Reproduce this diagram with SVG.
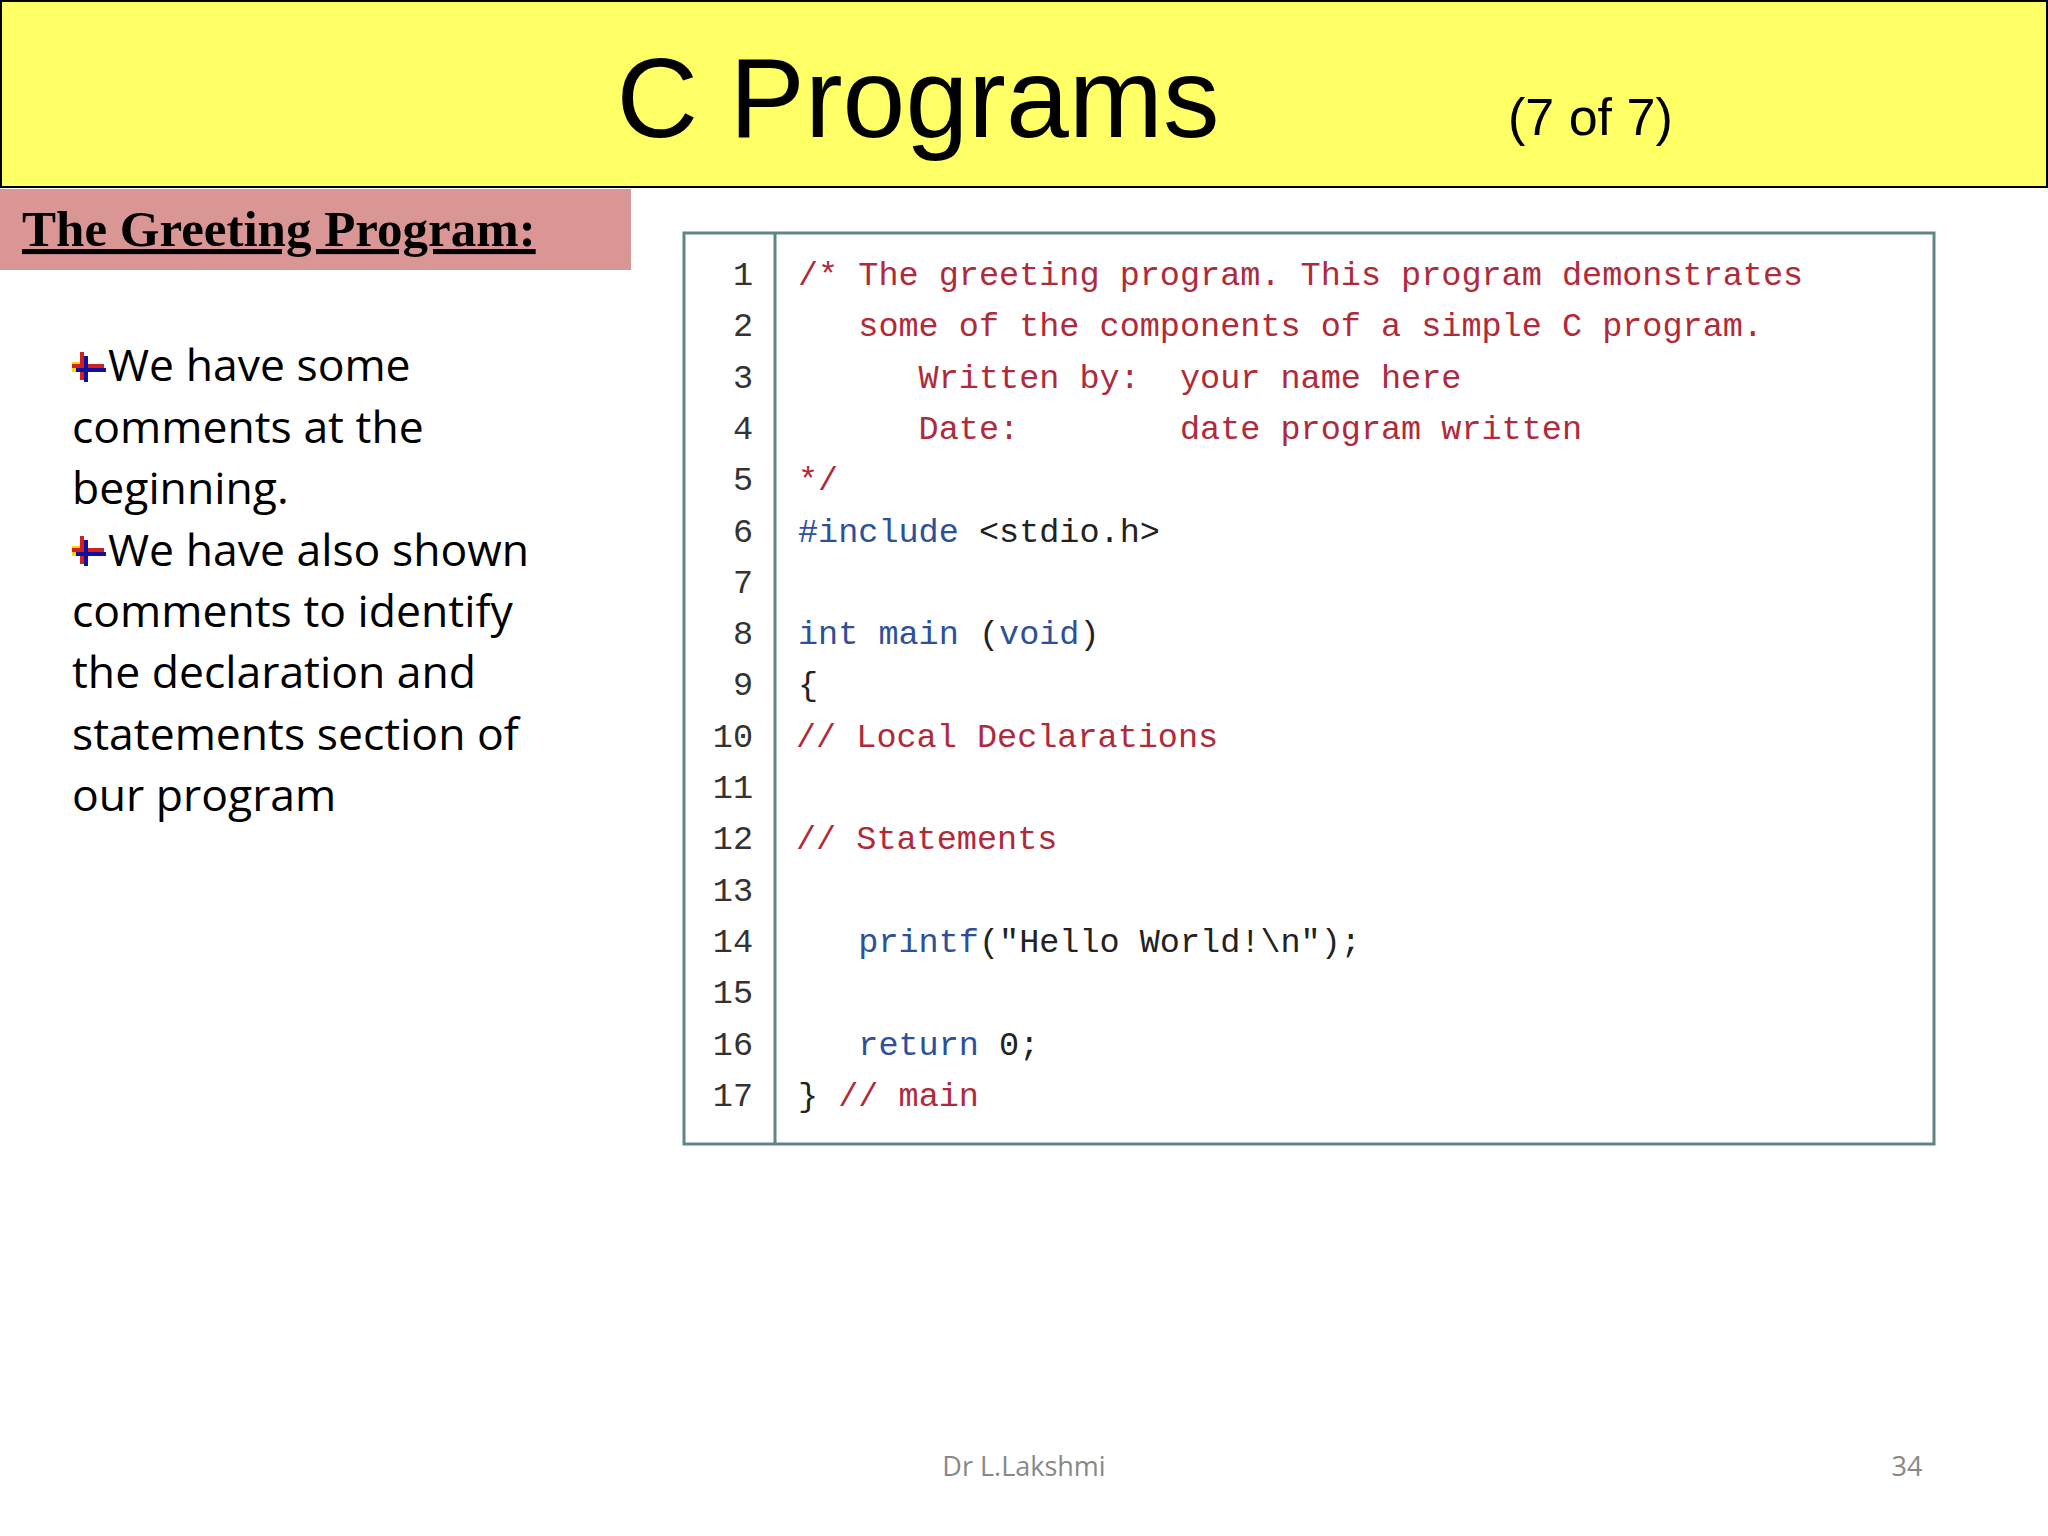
<svg xmlns="http://www.w3.org/2000/svg" width="2048" height="1536" viewBox="0 0 2048 1536">
<style>
.b{font-family:"Open Sans","Noto Sans",sans-serif;font-size:44.5px;fill:#000}
.c{font-family:"Liberation Mono",monospace;font-size:33.5px;white-space:pre}
.n{fill:#333;text-anchor:end}
.r{fill:#b02a3a}
.k{fill:#2e4f9a}
.d{fill:#222}
</style>
<rect width="2048" height="1536" fill="#fff"/>
<g id="title">
<rect x="1" y="1" width="2046" height="186" fill="#ffff66" stroke="#000" stroke-width="2"/>
<text x="918" y="137" text-anchor="middle" font-family="Liberation Sans,Arial,sans-serif" font-size="113">C Programs</text>
<text x="1508" y="135" font-family="Liberation Sans,Arial,sans-serif" font-size="52">(7 of  7)</text>
</g>
<g id="heading">
<rect x="0" y="189" width="631" height="81" fill="#d99694"/>
<text x="22" y="246" font-family="Liberation Serif,serif" font-weight="bold" font-size="51" text-decoration="underline">The Greeting Program:</text>
</g>
<defs>
<g id="ic"><rect x="0" y="-14" width="10" height="10" fill="#ffd700"/><rect x="8" y="-24" width="4" height="28" fill="#d02020"/><rect x="0" y="-12" width="32" height="4" fill="#d02020"/><rect x="12" y="-20" width="4" height="26" fill="#1010a0"/><rect x="4" y="-8" width="30" height="4" fill="#1010a0"/></g>
</defs>
<g id="bullets">
<use href="#ic" x="72" y="376"/>
<use href="#ic" x="72" y="560"/>
<text class="b" x="108" y="381">We have some</text>
<text class="b" x="72" y="443">comments at the</text>
<text class="b" x="72" y="504">beginning.</text>
<text class="b" x="108" y="566">We have also shown</text>
<text class="b" x="72" y="627">comments to identify</text>
<text class="b" x="72" y="688">the declaration and</text>
<text class="b" x="72" y="750">statements section of</text>
<text class="b" x="72" y="811">our program</text>
</g>
<g id="code">
<rect x="684" y="233" width="1250" height="911" fill="#fff" stroke="#5f8585" stroke-width="3"/>
<line x1="775" y1="233" x2="775" y2="1144" stroke="#5f8585" stroke-width="3"/>
<g class="c n">
<text x="753" y="285">1</text><text x="753" y="336">2</text><text x="753" y="388">3</text><text x="753" y="439">4</text><text x="753" y="490">5</text><text x="753" y="542">6</text><text x="753" y="593">7</text><text x="753" y="644">8</text><text x="753" y="695">9</text><text x="753" y="747">10</text><text x="753" y="798">11</text><text x="753" y="849">12</text><text x="753" y="901">13</text><text x="753" y="952">14</text><text x="753" y="1003">15</text><text x="753" y="1055">16</text><text x="753" y="1106">17</text>
</g>
<text class="c r" x="798" y="285">/* The greeting program. This program demonstrates</text>
<text class="c r" x="798" y="336">   some of the components of a simple C program.</text>
<text class="c r" x="798" y="388">      Written by:  your name here</text>
<text class="c r" x="798" y="439">      Date:        date program written</text>
<text class="c r" x="798" y="490">*/</text>
<text class="c d" x="798" y="542"><tspan class="k">#include</tspan> &lt;stdio.h&gt;</text>
<text class="c k" x="798" y="644">int main <tspan class="d">(</tspan>void<tspan class="d">)</tspan></text>
<text class="c d" x="798" y="695">{</text>
<text class="c r" x="796" y="747">// Local Declarations</text>
<text class="c r" x="796" y="849">// Statements</text>
<text class="c d" x="798" y="952">   <tspan class="k">printf</tspan>("Hello World!\n");</text>
<text class="c d" x="798" y="1055">   <tspan class="k">return</tspan> 0;</text>
<text class="c d" x="798" y="1106">} <tspan class="r">// main</tspan></text>
</g>
<g id="footer">
<text x="1024" y="1476" text-anchor="middle" font-family="Open Sans,sans-serif" font-size="27" fill="#888">Dr L.Lakshmi</text>
<text x="1907" y="1476" text-anchor="middle" font-family="Open Sans,sans-serif" font-size="27" fill="#888">34</text>
</g>
</svg>
